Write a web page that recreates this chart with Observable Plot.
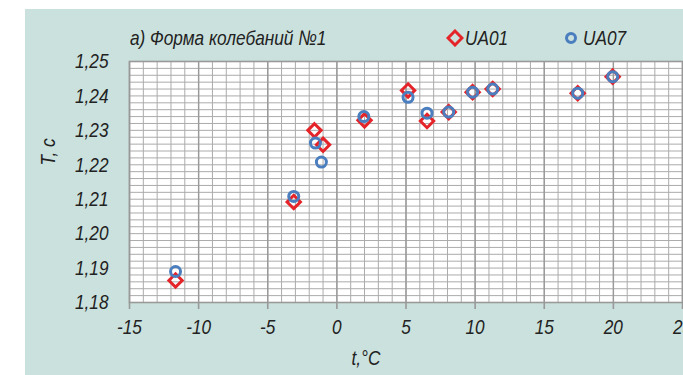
<!DOCTYPE html>
<html>
<head>
<meta charset="utf-8">
<script src="https://cdn.jsdelivr.net/npm/d3@7"></script>
<script src="https://cdn.jsdelivr.net/npm/@observablehq/plot@0.6"></script>
<style>
  html, body { margin: 0; padding: 0; background: #ffffff; width: 683px; height: 375px; overflow: hidden; }
  #wrap { position: absolute; left: 25px; top: 9px; width: 658px; height: 366px; background: #cbe1dd; overflow: hidden;
          font-family: "Liberation Sans", Arial, sans-serif; font-style: italic; color: #222; }
  .txt { position: absolute; font-size: 21px; line-height: 22px; white-space: nowrap; }
  #plot { position: absolute; left: 0; top: 0; }
</style>
</head>
<body>
<div id="wrap">
  <div id="plot"></div>
  <div class="txt" id="title" style="left:105px; top:18px; transform-origin: 0 50%; transform: scaleX(0.82);">а) Форма колебаний №1</div>
  <svg style="position:absolute; left:421px; top:20px;" width="18" height="18"><path d="M9,2 L16,9 L9,16 L2,9 Z" fill="none" stroke="#e5242a" stroke-width="3"/></svg>
  <div class="txt" id="leg1" style="left:440px; top:18px; transform-origin: 0 50%; transform: scaleX(0.82);">UA01</div>
  <svg style="position:absolute; left:538px; top:21px;" width="16" height="16"><circle cx="8" cy="8" r="4.5" fill="none" stroke="#4a7ebf" stroke-width="3"/></svg>
  <div class="txt" id="leg2" style="left:558px; top:18px; transform-origin: 0 50%; transform: scaleX(0.82);">UA07</div>
  <div class="txt" id="ylab" style="left:23px; top:143px; transform: translate(-50%,-50%) rotate(-90deg) scaleX(0.82);">T, c</div>
  <div class="txt" id="xlab" style="left:341px; top:349px; transform: translate(-50%,-50%) scaleX(0.82);">t,°C</div>
</div>
<script>
// Data
const tUA01 = [-11.67, -3.12, -1.62, -1.00, 2.00, 5.15, 6.52, 8.09, 9.82, 11.27, 17.42, 19.95];
const TUA01 = [1.1864, 1.2092, 1.2300, 1.2258, 1.2329, 1.2416, 1.2327, 1.2353, 1.2411, 1.2420, 1.2408, 1.2456];
const tUA07 = [-11.67, -3.12, -1.55, -1.12, 1.95, 5.15, 6.52, 8.09, 9.82, 11.27, 17.42, 19.95];
const TUA07 = [1.1890, 1.2108, 1.2263, 1.2208, 1.2340, 1.2396, 1.2350, 1.2353, 1.2411, 1.2420, 1.2408, 1.2456];

const xTicks = [-15, -10, -5, 0, 5, 10, 15, 20, 25];
const yTicks = [1.18, 1.19, 1.20, 1.21, 1.22, 1.23, 1.24, 1.25];
const xMinor = d3.range(-15, 26, 1);
const yMinor = d3.range(0, 36).map(i => 1.18 + i * 0.002);

const ua01 = tUA01.map((t, i) => ({t, T: TUA01[i]}));
const ua07 = tUA07.map((t, i) => ({t, T: TUA07[i]}));

const chart = Plot.plot({
  width: 658,
  height: 366,
  marginLeft: 104,
  marginRight: 1,
  marginTop: 52,
  marginBottom: 73,
  style: {
    fontFamily: '"Liberation Sans", Arial, sans-serif',
    fontStyle: "italic",
    fontSize: "21px",
    background: "transparent",
    color: "#222",
    overflow: "visible"
  },
  x: {domain: [-15, 25]},
  y: {domain: [1.18, 1.25]},
  marks: [
    Plot.frame({fill: "white", stroke: null}),
    Plot.gridX(xMinor, {stroke: "#ababab", strokeOpacity: 1, strokeWidth: 1}),
    Plot.gridY(yMinor, {stroke: "#ababab", strokeOpacity: 1, strokeWidth: 1}),
    Plot.gridX(xTicks, {stroke: "#999999", strokeOpacity: 1, strokeWidth: 1.4}),
    Plot.frame({stroke: "#999999", strokeWidth: 1.6}),
    Plot.axisX({ticks: xTicks, tickFormat: d => String(d), tickSize: 7, tickPadding: 10, stroke: "#999999", strokeWidth: 1.6, label: null, fill: "#222", ariaLabel: "x-axis"}),
    Plot.axisY({ticks: yTicks, tickFormat: d => d.toFixed(2).replace(".", ","), tickSize: 0, tickPadding: 21, label: null, fill: "#222", ariaLabel: "y-axis"}),
    Plot.dot(ua01, {x: "t", y: "T", symbol: "diamond2", r: 6, stroke: "#e5242a", strokeWidth: 3, fill: "none"}),
    Plot.dot(ua07, {x: "t", y: "T", symbol: "circle", r: 5, stroke: "#4a7ebf", strokeWidth: 3, fill: "none"})
  ]
});
// condense tick labels horizontally (narrow italic face, like the reference)
d3.select(chart).selectAll("g[aria-label^='x-axis'] text, g[aria-label^='y-axis'] text").each(function() {
  const tr = this.getAttribute("transform") || "";
  this.setAttribute("transform", tr + " scale(0.82,1)");
});
document.getElementById("plot").appendChild(chart);
</script>
</body>
</html>
